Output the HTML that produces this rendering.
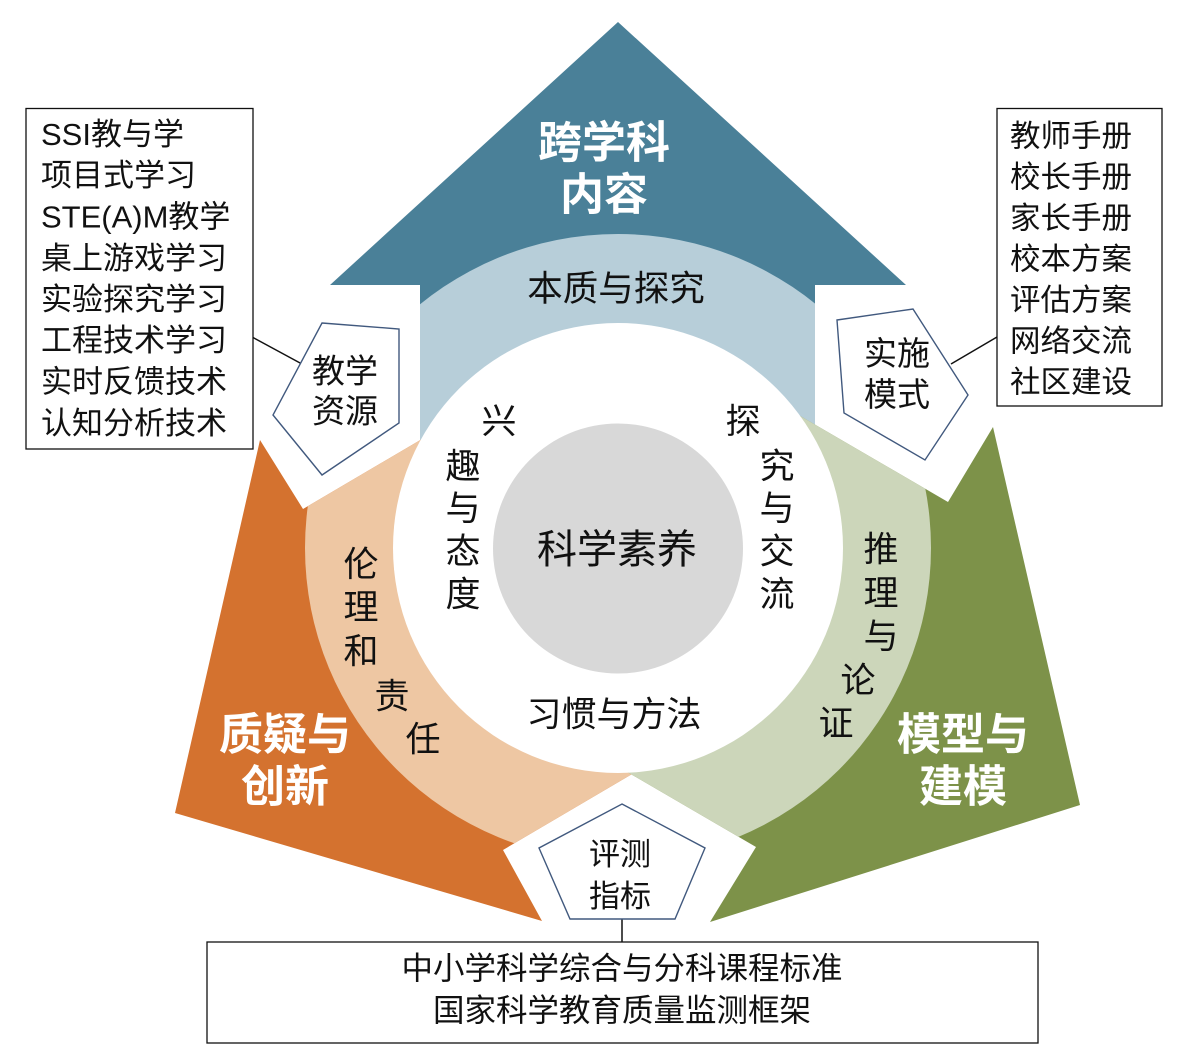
<!DOCTYPE html>
<html>
<head>
<meta charset="utf-8">
<style>
  html, body { margin:0; padding:0; background:#ffffff; }
  svg { display:block; }
  text { font-family: "Liberation Sans", "Noto Sans CJK SC", sans-serif; fill:#111; }
  .w { fill:#ffffff; font-weight:700; }
</style>
</head>
<body>
<svg width="1204" height="1062" viewBox="0 0 1204 1062" xmlns="http://www.w3.org/2000/svg">
  <defs>
    <clipPath id="cT"><polygon points="618,22 906,285 815,285 815,560 420,560 420,285 330,285"/></clipPath>
    <clipPath id="cO"><polygon points="175,813 260,440 303,509 561.6,356.9 761.6,697.9 503,850 542,921"/></clipPath>
    <clipPath id="cG"><polygon points="1080,805 993,427 948,502 688.8,351.1 496.8,696.1 756,847 710,922"/></clipPath>
  </defs>
  <rect x="0" y="0" width="1204" height="1062" fill="#ffffff"/>

  <!-- Top arrow -->
  <polygon points="618,22 906,285 815,285 815,560 420,560 420,285 330,285" fill="#4A8098"/>
  <circle cx="618" cy="548" r="314" fill="#B7CED9" clip-path="url(#cT)"/>

  <!-- Orange arrow -->
  <polygon points="175,813 260,440 303,509 561.6,356.9 761.6,697.9 503,850 542,921" fill="#D4722F"/>
  <circle cx="618" cy="548" r="313" fill="#EEC7A3" clip-path="url(#cO)"/>

  <!-- Green arrow -->
  <polygon points="1080,805 993,427 948,502 688.8,351.1 496.8,696.1 756,847 710,922" fill="#7D9249"/>
  <circle cx="618" cy="548" r="313" fill="#CCD6BA" clip-path="url(#cG)"/>

  <!-- inner circles -->
  <circle cx="618" cy="548" r="225" fill="#ffffff"/>
  <circle cx="618" cy="548.5" r="125" fill="#D8D8D8"/>

  <!-- Boxes -->
  <rect x="26" y="108.5" width="227" height="340.5" fill="#ffffff" stroke="#111" stroke-width="1.3"/>
  <rect x="997" y="108.5" width="165" height="297.5" fill="#ffffff" stroke="#111" stroke-width="1.3"/>
  <rect x="207" y="942" width="831" height="101" fill="#ffffff" stroke="#111" stroke-width="1.3"/>

  <!-- connector lines -->
  <line x1="253" y1="337.5" x2="301" y2="363.5" stroke="#111" stroke-width="1.5"/>
  <line x1="951" y1="364" x2="997" y2="337" stroke="#111" stroke-width="1.5"/>
  <line x1="622" y1="919" x2="622" y2="942" stroke="#111" stroke-width="1.5"/>

  <!-- Pentagons -->
  <polygon points="322,323 399,329 399,423 322,475 273,415" fill="#ffffff" stroke="#41597E" stroke-width="1.4"/>
  <polygon points="837,320 913,309 968,395 925,460 844,413" fill="#ffffff" stroke="#41597E" stroke-width="1.4"/>
  <polygon points="622,804 705,848 675,919 570,919 539,848" fill="#ffffff" stroke="#41597E" stroke-width="1.4"/>

  <!-- Left box text -->
  <g font-size="31">
    <text x="41" y="145">SSI教与学</text>
    <text x="41" y="186">项目式学习</text>
    <text x="41" y="227.5">STE(A)M教学</text>
    <text x="41" y="269">桌上游戏学习</text>
    <text x="41" y="310">实验探究学习</text>
    <text x="41" y="351">工程技术学习</text>
    <text x="41" y="392.5">实时反馈技术</text>
    <text x="41" y="434">认知分析技术</text>
  </g>

  <!-- Right box text -->
  <g font-size="30.5">
    <text x="1010" y="146.6">教师手册</text>
    <text x="1010" y="187.6">校长手册</text>
    <text x="1010" y="228.6">家长手册</text>
    <text x="1010" y="269.6">校本方案</text>
    <text x="1010" y="310.6">评估方案</text>
    <text x="1010" y="351.6">网络交流</text>
    <text x="1010" y="392.6">社区建设</text>
  </g>

  <!-- Bottom box text -->
  <g font-size="31.5" text-anchor="middle">
    <text x="622" y="979">中小学科学综合与分科课程标准</text>
    <text x="622" y="1021">国家科学教育质量监测框架</text>
  </g>

  <!-- Arrow titles (bold white) -->
  <g font-size="44" text-anchor="middle">
    <text class="w" x="604" y="157.7">跨学科</text>
    <text class="w" x="604" y="209.7">内容</text>
    <text class="w" x="285" y="749.7">质疑与</text>
    <text class="w" x="285" y="801.7">创新</text>
    <text class="w" x="963" y="749.7">模型与</text>
    <text class="w" x="963" y="801.7">建模</text>
  </g>

  <!-- Ring labels -->
  <g font-size="35.5" text-anchor="middle">
    <text x="616" y="300.5">本质与探究</text>
  </g>
  <g font-size="35" text-anchor="middle">
    <text x="614" y="726.3">习惯与方法</text>

    <text x="361" y="576.3">伦</text>
    <text x="361" y="619.3">理</text>
    <text x="361" y="663.3">和</text>
    <text x="392" y="708.3">责</text>
    <text x="423" y="751.3">任</text>

    <text x="881" y="561.3">推</text>
    <text x="881" y="605.3">理</text>
    <text x="881" y="648.3">与</text>
    <text x="858" y="692.3">论</text>
    <text x="836" y="735.3">证</text>

    <text x="499" y="433.3">兴</text>
    <text x="463" y="478.3">趣</text>
    <text x="463" y="520.3">与</text>
    <text x="463" y="563.3">态</text>
    <text x="463" y="606.3">度</text>

    <text x="743" y="433.3">探</text>
    <text x="777" y="478.3">究</text>
    <text x="777" y="520.3">与</text>
    <text x="777" y="563.3">交</text>
    <text x="777" y="606.3">流</text>
  </g>

  <!-- Center -->
  <text x="617" y="563.2" font-size="40" text-anchor="middle">科学素养</text>

  <!-- Pentagon labels -->
  <g font-size="33" text-anchor="middle">
    <text x="345" y="382.5">教学</text>
    <text x="345" y="422.5">资源</text>
    <text x="897" y="365">实施</text>
    <text x="897" y="406">模式</text>
  </g>
  <g font-size="31" text-anchor="middle">
    <text x="620" y="864.8">评测</text>
    <text x="620" y="906.8">指标</text>
  </g>
</svg>
</body>
</html>
